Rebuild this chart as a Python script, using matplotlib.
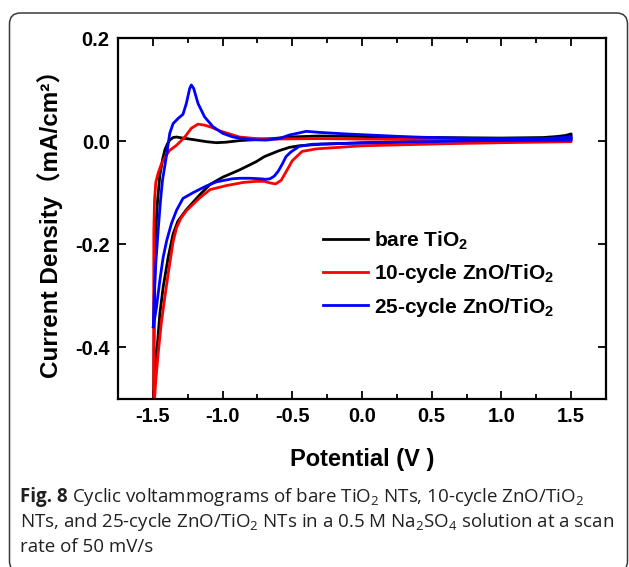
import matplotlib
matplotlib.use('Agg')
import matplotlib.pyplot as plt
from matplotlib.patches import FancyBboxPatch
from matplotlib.ticker import MultipleLocator, FormatStrFormatter
from matplotlib.transforms import IdentityTransform

plt.rcParams['font.family'] = ['Liberation Sans', 'Noto Sans CJK SC', 'DejaVu Sans']
plt.rcParams['axes.unicode_minus'] = False
plt.rcParams['mathtext.fontset'] = 'custom'
plt.rcParams['mathtext.rm'] = 'Open Sans'
plt.rcParams['mathtext.bf'] = 'Open Sans:bold'
plt.rcParams['mathtext.sf'] = 'Liberation Sans:bold'

# bare TiO2 : anodic sweep then cathodic sweep back
bare_v = [-1.495, -1.490, -1.486, -1.479, -1.466, -1.45, -1.43, -1.414, -1.395, -1.379,
          -1.355, -1.33, -1.286, -1.21, -1.117, -1.045, -0.974, -0.879, -0.76, -0.64,
          -0.52, -0.31, 0.0, 0.5, 1.0, 1.3, 1.4, 1.46, 1.5,
          1.5, 1.0, 0.5, 0.0, -0.3, -0.45, -0.52, -0.6, -0.7, -0.76, -0.88, -1.0,
          -1.09, -1.16, -1.26, -1.32, -1.355, -1.39, -1.426, -1.45, -1.469, -1.486, -1.493]
bare_j = [-0.50, -0.35, -0.27, -0.173, -0.115, -0.066, -0.035, -0.017, -0.005, 0.002,
          0.007, 0.008, 0.006, 0.003, -0.001, -0.003, -0.002, 0.001, 0.003, 0.005,
          0.008, 0.010, 0.009, 0.007, 0.006, 0.007, 0.009, 0.011, 0.014,
          0.004, 0.002, 0.0, -0.003, -0.006, -0.009, -0.012, -0.019, -0.030, -0.040, -0.056, -0.070,
          -0.084, -0.103, -0.133, -0.155, -0.18, -0.225, -0.283, -0.335, -0.40, -0.464, -0.50]

# 10-cycle ZnO/TiO2
zno10_v = [-1.493, -1.494, -1.493, -1.488, -1.479, -1.462, -1.44, -1.41, -1.38, -1.33,
           -1.271, -1.224, -1.176, -1.129, -1.081, -1.021, -0.95, -0.879, -0.76, -0.64,
           -0.31, 0.0, 0.5, 1.0, 1.5,
           1.5, 1.0, 0.6, 0.0, -0.33, -0.43, -0.5, -0.55, -0.58, -0.62, -0.66, -0.70,
           -0.76, -0.85, -0.97, -1.09, -1.164, -1.26, -1.30, -1.33, -1.355, -1.39,
           -1.414, -1.44, -1.462, -1.479, -1.488]
zno10_j = [-0.50, -0.30, -0.173, -0.115, -0.08, -0.062, -0.045, -0.03, -0.018, -0.008,
           0.008, 0.025, 0.033, 0.031, 0.027, 0.020, 0.014, 0.008, 0.005, 0.004,
           0.005, 0.004, 0.003, 0.002, 0.002,
           -0.001, -0.003, -0.005, -0.009, -0.015, -0.02, -0.038, -0.062, -0.076, -0.083, -0.081, -0.078,
           -0.078, -0.080, -0.086, -0.094, -0.11, -0.135, -0.15, -0.168, -0.195, -0.257,
           -0.302, -0.354, -0.412, -0.464, -0.50]

# 25-cycle ZnO/TiO2
zno25_v = [-1.497, -1.491, -1.479, -1.462, -1.445, -1.431, -1.40, -1.379, -1.355, -1.319,
           -1.284, -1.26, -1.236, -1.224, -1.207, -1.176, -1.129, -1.069, -0.998, -0.926,
           -0.807, -0.688, -0.593, -0.52, -0.45, -0.40, -0.307, -0.117, 0.36, 0.836, 1.31, 1.5,
           1.5, 0.836, 0.12, -0.355, -0.45, -0.51, -0.545, -0.569, -0.6, -0.63, -0.66, -0.69,
           -0.73, -0.8, -0.88, -0.93, -1.045, -1.117, -1.212, -1.284, -1.33, -1.367, -1.40,
           -1.426, -1.45, -1.474, -1.497]
zno25_j = [-0.36, -0.302, -0.237, -0.173, -0.115, -0.076, -0.024, 0.015, 0.034, 0.044,
           0.052, 0.073, 0.102, 0.109, 0.102, 0.073, 0.047, 0.028, 0.015, 0.008,
           0.003, 0.002, 0.005, 0.012, 0.016, 0.019, 0.017, 0.014, 0.008, 0.005, 0.005, 0.008,
           0.002, 0.001, -0.003, -0.006, -0.01, -0.021, -0.03, -0.043, -0.058, -0.068, -0.073, -0.074,
           -0.073, -0.072, -0.072, -0.073, -0.079, -0.087, -0.100, -0.111, -0.134, -0.16, -0.192,
           -0.225, -0.27, -0.322, -0.36]

fig = plt.figure(figsize=(6.29, 5.67), dpi=100)
ax = fig.add_axes([118 / 629, 1 - 399 / 567, 488 / 629, 361 / 567])

ax.plot(bare_v, bare_j, color='black', lw=2, label=r'bare TiO$_\mathsf{2}$')
ax.plot(zno10_v, zno10_j, color='#ff0000', lw=2, label=r'10-cycle ZnO/TiO$_\mathsf{2}$')
ax.plot(zno25_v, zno25_j, color='#0000ff', lw=2, label=r'25-cycle ZnO/TiO$_\mathsf{2}$')

ax.set_xlim(-1.75, 1.75)
ax.set_ylim(-0.5, 0.2)
ax.set_xticks([-1.5, -1.0, -0.5, 0.0, 0.5, 1.0, 1.5])
ax.set_yticks([-0.4, -0.2, 0.0, 0.2])
ax.xaxis.set_minor_locator(MultipleLocator(0.25))
ax.xaxis.set_major_formatter(FormatStrFormatter('%.1f'))
ax.yaxis.set_major_formatter(FormatStrFormatter('%.1f'))
ax.tick_params(which='both', direction='in', top=True, right=True, width=1.3)
ax.tick_params(which='major', length=6, labelsize=14.5, pad=6)
ax.tick_params(which='minor', length=3.5)
for lab in ax.get_xticklabels() + ax.get_yticklabels():
    lab.set_fontweight('bold')
for sp in ax.spines.values():
    sp.set_linewidth(1.6)

ax.set_xlabel('Potential (V )', fontsize=17, fontweight='bold')
ax.set_ylabel('Current Density（mA/cm²）', fontsize=17.5, fontweight='bold')
ax.xaxis.set_label_coords(0.5, -0.135)
ax.yaxis.set_label_coords(-0.113, 0.5)

leg = ax.legend(loc='upper left', bbox_to_anchor=(0.42, 0.47), frameon=False,
                prop={'size': 15, 'weight': 'bold'}, handlelength=2.15,
                handletextpad=0.28, labelspacing=0.5, borderpad=0, borderaxespad=0)

# caption: bold "Fig. 8" then the rest of the first line right after it
cap_kw = dict(family='Open Sans', fontsize=13.5, color='#231f20', va='baseline')
fig_lbl = fig.text(20 / 629, 1 - 502 / 567, 'Fig. 8', fontweight='bold', **cap_kw)
fig.canvas.draw()
bb = fig_lbl.get_window_extent(fig.canvas.get_renderer())
fig.text((bb.x1 + 4) / 629, 1 - 502 / 567,
         r'Cyclic voltammograms of bare TiO$_2$ NTs, 10-cycle ZnO/TiO$_2$', **cap_kw)
fig.text(20 / 629, 1 - 527 / 567,
         r'NTs, and 25-cycle ZnO/TiO$_2$ NTs in a 0.5 M Na$_2$SO$_4$ solution at a scan', **cap_kw)
fig.text(20 / 629, 1 - 552 / 567, 'rate of 50 mV/s', **cap_kw)

frame = FancyBboxPatch((9.5, -5), 618, 559, boxstyle='round,pad=0,rounding_size=11',
                       transform=IdentityTransform(), facecolor='none',
                       edgecolor='#3a3a3a', lw=1.1)
fig.add_artist(frame)

fig.savefig('out.png', dpi=100)
